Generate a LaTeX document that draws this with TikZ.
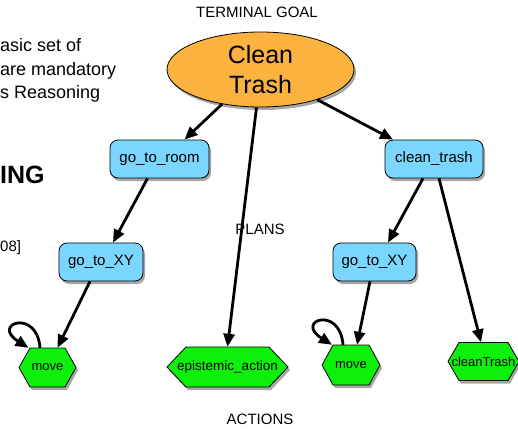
\documentclass[tikz,border=0pt]{standalone}
\usepackage{fontspec}
\setmainfont{Liberation Sans}
\usetikzlibrary{shapes.geometric,arrows.meta,shadows}
\definecolor{goalorange}{RGB}{252,178,62}
\definecolor{planblue}{RGB}{122,214,255}
\definecolor{actgreen}{RGB}{12,240,12}
\newcommand\hexnode[7]{%
  \path[hexshape] ({#2-#4},#3) -- ({#2-#4+#6},{#3-#5}) -- ({#2+#4-#6},{#3-#5}) -- ({#2+#4},#3) -- ({#2+#4-#6},{#3+#5}) -- ({#2-#4+#6},{#3+#5}) -- cycle;
  \node[hextext, minimum width={2*#4}, minimum height={2*#5}] (#1) at (#2,#3) {\makebox[0pt]{#7}};
}
\tikzset{
  myshadow/.style={drop shadow={shadow xshift=2pt, shadow yshift=-3pt, opacity=0.35, fill=black}},
  goal/.style={ellipse, draw=black, line width=0.8pt, fill=goalorange, myshadow, inner sep=0pt,
    minimum width=187, minimum height=75, align=center,
    font=\fontsize{25}{30}\selectfont},
  planbox/.style={rectangle, rounded corners=8pt, draw=black, line width=0.8pt, fill=planblue, myshadow,
    inner sep=0pt, minimum height=38, font=\fontsize{15}{18}\selectfont},
  hexshape/.style={draw=black, line width=0.8pt, fill=actgreen, myshadow},
  hextext/.style={rectangle, draw=none, inner sep=0pt},
  arr/.style={line width=2.8pt, -{Triangle[length=13pt,width=11pt]}},
  lbl/.style={inner sep=0pt, font=\fontsize{15}{18}\selectfont},
  sidetext/.style={inner sep=0pt, anchor=base west, font=\fontsize{18}{22}\selectfont},
}
\begin{document}
\begin{tikzpicture}[x=1pt,y=-1pt]
\useasboundingbox (0,0) rectangle (518,428);
\clip (0,0) rectangle (518,428);
% side text (cut off at the left edge)
\node[sidetext] (s1) at (0,52) {asic set of};
\node[sidetext] (s2) at (0,75) {are mandatory};
\node[sidetext] (s3) at (0,98) {s Reasoning};
\node[sidetext, font=\fontsize{25}{30}\selectfont\bfseries] (s4) at (0,183) {ING};
\node[inner sep=0pt, anchor=base west, font=\fontsize{15}{18}\selectfont] (s5) at (0,251) {08]};
% level labels
\node[lbl, anchor=base] (lgoal) at (257,18) {TERMINAL GOAL};
\node[lbl, anchor=base] (lplans) at (260,234) {PLANS};
\node[lbl, anchor=base] (lacts) at (260,424.5) {ACTIONS};
% goal
\node[goal] (goal) at (260.5,69.5) {Clean\\Trash};
% plans
\node[planbox, minimum width=99] (room) at (159.5,159) {go\_to\_room};
\node[planbox, minimum width=98] (ctrash) at (434,159) {clean\_trash};
\node[planbox, minimum width=84] (xy1) at (101,262) {go\_to\_XY};
\node[planbox, minimum width=83] (xy2) at (374.5,262) {go\_to\_XY};
% actions
\hexnode{mv1}{47.5}{367.5}{28.5}{19.5}{11}{\fontsize{13}{16}\selectfont move}
\hexnode{epi}{227.5}{367}{60.5}{20}{19}{\fontsize{13.5}{16}\selectfont epistemic\_action}
\hexnode{mv2}{351}{365}{29}{20}{11}{\fontsize{13}{16}\selectfont move}
\hexnode{ctr}{483.5}{361.5}{35.5}{19}{11}{\fontsize{13}{16}\selectfont cleanTrash}
% connectors
\draw[arr] (goal.222) -- ([xshift=25pt]room.north);
\draw[arr] ([xshift=-4pt]goal.south) -- (epi.north);
\draw[arr] (goal.-28) -- ([xshift=-41pt]ctrash.north);
\draw[arr] ([xshift=-12pt]room.south) -- ([xshift=12pt]xy1.north);
\draw[arr] ([xshift=-11pt]xy1.south) -- ([xshift=10pt]mv1.north);
\draw[arr] ([xshift=-11pt]ctrash.south) -- ([xshift=13.5pt]xy2.north);
\draw[arr] ([xshift=5pt]ctrash.south) -- ([xshift=-2.5pt]ctr.north);
\draw[arr] ([xshift=-4.5pt]xy2.south) -- ([xshift=6pt]mv2.north);
\draw[arr] ([xshift=-7.5pt]mv1.north) .. controls +(-3,-40) and +(-38,-24) .. ([xshift=-19pt]mv1.north);
\draw[arr] ([xshift=-8pt]mv2.north) .. controls +(-3,-40) and +(-38,-24) .. ([xshift=-19pt]mv2.north);
\end{tikzpicture}
\end{document}
